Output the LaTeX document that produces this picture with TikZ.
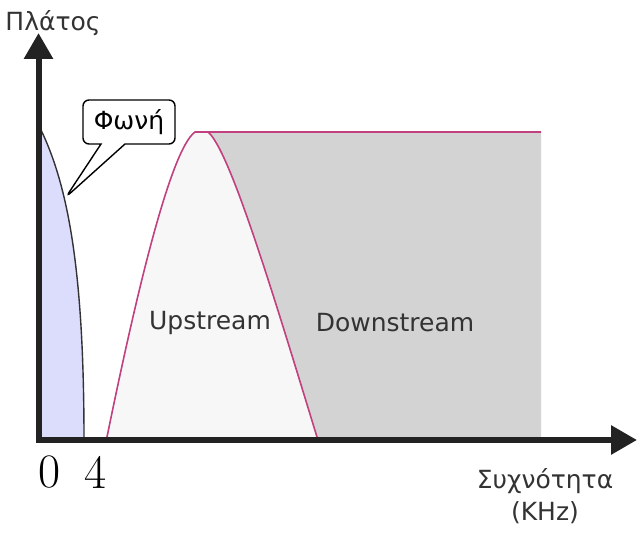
\documentclass[tikz,border=0pt]{standalone}
\usepackage{fontspec}
\newfontfamily\grfont{DejaVu Sans}
\usetikzlibrary{positioning,arrows.meta,shapes.callouts}
\definecolor{voiceblue}{RGB}{220,220,252}
\definecolor{upgrey}{RGB}{247,247,247}
\definecolor{downgrey}{RGB}{211,211,211}
\definecolor{bandpink}{RGB}{192,64,128}
\definecolor{axisblack}{RGB}{34,34,34}
\tikzset{
  spaxis/.style={
    line width=3pt,
    draw=axisblack,
    {Triangle[length=13pt,width=14pt]}-{Triangle[length=13pt,width=14pt]}
  },
  bandedge/.style={
    draw=bandpink,
    line width=0.8pt
  },
  bandlabel/.style={
    font=\grfont\fontsize{12.5}{16}\selectfont,
    text=black!80,
    align=center
  },
  ticklabel/.style={
    font=\fontsize{24}{26}\selectfont
  },
  voicecallout/.style={
    rectangle callout,
    draw=black,
    fill=white,
    rounded corners=3pt,
    line width=0.7pt,
    callout pointer width=12pt,
    minimum width=46pt,
    minimum height=22pt,
    inner sep=1pt,
    font=\grfont\fontsize{12.5}{14}\selectfont
  }
}

\begin{document}
\begin{tikzpicture}[x=0.5pt,y=-0.5pt]
    \useasboundingbox (0,0) rectangle (638,533);
    % named points of the plot
    \coordinate (origin) at (38.5,440);
    \coordinate (ytip) at (38.5,33);
    \coordinate (xtip) at (637,440);
    \coordinate (voicetip) at (66,197);

    % voice band
    \fill[voiceblue] (41,130) .. controls (70,190) and (84,280) .. (84,437) -- (41,437) -- cycle;
    \draw[line width=0.7pt, black!80] (41,130) .. controls (70,190) and (84,280) .. (84,440);

    % upstream / downstream bands
    \fill[downgrey] (208,132) -- (541,132) -- (541,437) -- (317,437) .. controls (275,300) and (230,150) .. (208,132) -- cycle;
    \fill[upgrey] (107,437) .. controls (135,300) and (170,150) .. (195,132) -- (208,132) .. controls (230,150) and (275,300) .. (317,437) -- cycle;
    \draw[bandedge] (107,437) .. controls (135,300) and (170,150) .. (195,132) -- (541,132);
    \draw[bandedge] (208,132) .. controls (230,150) and (275,300) .. (317,437);

    % axes
    \draw[spaxis] (ytip) -- (origin) -- (xtip);

    \node (ylabel) [bandlabel] at (53,23) {Πλάτος};
    \node (xlabel) [bandlabel] at (545,496) {Συχνότητα\\(KHz)};
    \node (up) [bandlabel] at (210,323) {Upstream};
    \node (down) [bandlabel] at (395,323) {Downstream};
    \node (zero) [ticklabel] at (50,472) {0};
    \node (four) [ticklabel] at (96,472) {4};
    \node (voice) [voicecallout, callout absolute pointer={(voicetip)}] at (129,122) {Φωνή};
  \end{tikzpicture}
\end{document}
